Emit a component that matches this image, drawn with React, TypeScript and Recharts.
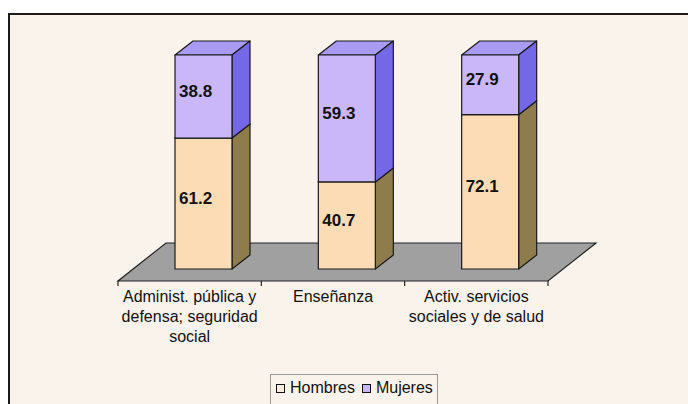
import React from "react";
import { BarChart, Bar, XAxis, YAxis, Legend, LabelList, usePlotArea } from "recharts";

// tick labels, split on the lines the original uses
const categories = [
  ["Administ. pública y", "defensa; seguridad", "social"],
  ["Enseñanza"],
  ["Activ. servicios", "sociales y de salud"],
];
const hombres = [61.2, 40.7, 72.1];
const mujeres = [38.8, 59.3, 27.9];

const data = categories.map((lines, i) => ({
  name: lines.join(" "),
  hombres: hombres[i],
  mujeres: mujeres[i],
}));

const FONT = '"Liberation Sans", Arial, sans-serif';

// 3d look
const SHIFT_X = 14;
const SHIFT_Y = 12;
const DEPTH_X = 18;
const DEPTH_Y = 14;
const FLOOR_X = 48;
const FLOOR_Y = 38;

const HOMBRES = { front: "#FCDCB4", side: "#8E7C4C", top: "#E8C99E" };
const MUJERES = { front: "#C9B7FA", side: "#7468E6", top: "#A99AF2" };

function makeBox(c: { front: string; side: string; top: string }) {
  return (props: any) => {
    const { x, y, width, height } = props;
    if (width == null || height == null) return null;
    const fx = x + SHIFT_X;
    const fy = y - SHIFT_Y;
    const w = width;
    const h = height;
    const side = [
      [fx + w, fy],
      [fx + w + DEPTH_X, fy - DEPTH_Y],
      [fx + w + DEPTH_X, fy + h - DEPTH_Y],
      [fx + w, fy + h],
    ];
    const top = [
      [fx, fy],
      [fx + DEPTH_X, fy - DEPTH_Y],
      [fx + w + DEPTH_X, fy - DEPTH_Y],
      [fx + w, fy],
    ];
    return (
      <g stroke="#1a1a1a" strokeWidth={1.2} strokeLinejoin="round">
        <polygon points={top.map((p) => p.join(",")).join(" ")} fill={c.top} />
        <polygon points={side.map((p) => p.join(",")).join(" ")} fill={c.side} />
        <rect x={fx} y={fy} width={w} height={h} fill={c.front} />
      </g>
    );
  };
}

function Floor() {
  const area = usePlotArea();
  if (!area) return null;
  const { x, y, width, height } = area;
  const b = y + height;
  const pts = [
    [x, b],
    [x + width, b],
    [x + width + FLOOR_X, b - FLOOR_Y],
    [x + FLOOR_X, b - FLOOR_Y],
  ];
  const n = categories.length;
  return (
    <g>
      <polygon
        points={pts.map((p) => p.join(",")).join(" ")}
        fill="#A0A0A0"
        stroke="#222"
        strokeWidth={1.2}
      />
      {Array.from({ length: n + 1 }, (_, i) => {
        const tx = x + (width * i) / n;
        return <line key={i} x1={tx} x2={tx} y1={b} y2={b + 5} stroke="#222" strokeWidth={1.2} />;
      })}
    </g>
  );
}

function CategoryTick(props: any) {
  const { x, y, index } = props;
  const lines = categories[index] || [];
  return (
    <text x={x} y={y} textAnchor="middle" fontFamily={FONT} fontSize={16} fill="#111">
      {lines.map((l, i) => (
        <tspan key={i} x={x} dy={i === 0 ? 13 : 20}>
          {l}
        </tspan>
      ))}
    </text>
  );
}

function ValueLabel(props: any) {
  const { x, y, height, value } = props;
  return (
    <text
      x={x + SHIFT_X + 4}
      y={y - SHIFT_Y + height / 2 - 5}
      dominantBaseline="central"
      fontFamily={FONT}
      fontSize={17}
      fontWeight="bold"
      fill="#111"
    >
      {value}
    </text>
  );
}

function LegendBox() {
  const item = (fill: string, label: string) => (
    <span style={{ display: "inline-flex", alignItems: "center" }}>
      <span
        style={{
          display: "inline-block",
          width: 7,
          height: 7,
          border: "1px solid #111",
          background: fill,
          marginRight: 5,
        }}
      />
      {label}
    </span>
  );
  return (
    <div
      style={{
        border: "1px solid #9a9a9a",
        height: 40,
        boxSizing: "border-box",
        padding: "3px 0 0 5px",
        fontFamily: FONT,
        fontSize: 16,
        lineHeight: "20px",
        color: "#111",
        display: "flex",
        alignItems: "flex-start",
        gap: 7,
        whiteSpace: "nowrap",
      }}
    >
      {item("#FBEEDF", "Hombres")}
      {item(MUJERES.front, "Mujeres")}
    </div>
  );
}

export default function App() {
  return (
    <div
      style={{
        position: "fixed",
        left: 0,
        top: 0,
        width: 688,
        height: 404,
        overflow: "hidden",
        background: "#fff",
      }}
    >
      <div
        style={{
          position: "absolute",
          left: 8,
          top: 13,
          width: 720,
          height: 440,
          borderLeft: "2px solid #1b1b1b",
          borderTop: "2px solid #1b1b1b",
          background: "#FAF3EC",
        }}
      />
      <div style={{ position: "absolute", left: 0, top: 0 }}>
        <BarChart
          width={688}
          height={404}
          data={data}
          barSize={57}
          margin={{ top: 67, right: 140, bottom: 63, left: 118 }}
        >
          <Floor />
          <XAxis
            dataKey="name"
            axisLine={false}
            tickLine={false}
            interval={0}
            height={60}
            tick={<CategoryTick />}
          />
          <YAxis hide domain={[0, 100]} />
          <Legend
            layout="horizontal"
            verticalAlign="middle"
            align="center"
            content={<LegendBox />}
            wrapperStyle={{ left: 270, top: 374, width: 168, height: 40 }}
          />
          <Bar dataKey="hombres" stackId="a" shape={makeBox(HOMBRES)} isAnimationActive={false}>
            <LabelList dataKey="hombres" content={<ValueLabel />} />
          </Bar>
          <Bar dataKey="mujeres" stackId="a" shape={makeBox(MUJERES)} isAnimationActive={false}>
            <LabelList dataKey="mujeres" content={<ValueLabel />} />
          </Bar>
        </BarChart>
      </div>
    </div>
  );
}
